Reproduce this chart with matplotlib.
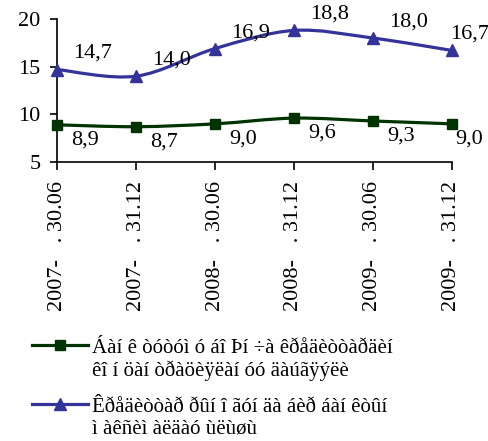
import matplotlib
matplotlib.use('Agg')
import matplotlib.pyplot as plt
import numpy as np
from matplotlib.path import Path
from matplotlib.patches import PathPatch
from matplotlib.lines import Line2D

# data
dates = ['2007-   . 30.06', '2007-   . 31.12', '2008-   . 30.06',
         '2008-   . 31.12', '2009-   . 30.06', '2009-   . 31.12']
conc = [8.9, 8.7, 9.0, 9.6, 9.3, 9.0]
maxshare = [14.7, 14.0, 16.9, 18.8, 18.0, 16.7]
label_conc = 'Áàí ê òóòóì ó áî Þí ÷à êðåäèòòàðäèí\nêî í öàí òðàöèÿëàí óó äàúãÿýëè'
label_max = 'Êðåäèòòàð ðûí î ãóí äà áèð áàí êòûí\nì àêñèì àëäàó ùëùøù'

green = '#003300'
blue = '#333399'

plt.rcParams['font.family'] = ['Liberation Serif', 'DejaVu Serif']


def smooth_path(x, y):
    # excel-like smoothed line as cubic bezier segments
    pts = np.column_stack([x, y]).astype(float)
    n = len(pts)
    verts = [pts[0]]
    codes = [Path.MOVETO]
    for i in range(n - 1):
        p0 = pts[i - 1] if i > 0 else pts[i]
        p1 = pts[i]
        p2 = pts[i + 1]
        p3 = pts[i + 2] if i + 2 < n else pts[i + 1]
        c1 = p1 + (p2 - p0) / 6.0
        c2 = p2 - (p3 - p1) / 6.0
        verts += [c1, c2, p2]
        codes += [Path.CURVE4] * 3
    return Path(verts, codes)


fig = plt.figure(figsize=(4.89, 4.41), dpi=100)
ax = fig.add_axes([0.1166, 0.6327, 0.8077, 0.3242])

x = np.arange(len(dates))
ax.add_patch(PathPatch(smooth_path(x, conc), fill=False, edgecolor=green, lw=2.3, zorder=2))
ax.add_patch(PathPatch(smooth_path(x, maxshare), fill=False, edgecolor=blue, lw=2.3, zorder=2))
ax.plot(x, conc, ls='none', marker='s', ms=7.5, color=green, zorder=3, clip_on=False)
ax.plot(x, maxshare, ls='none', marker='^', ms=9, color=blue, zorder=3, clip_on=False)

last = len(x) - 1
for xi, v in zip(x, maxshare):
    dx = 18 if xi == last else 36
    ax.annotate(f'{v:.1f}'.replace('.', ','), (xi, v), xytext=(dx, 16),
                textcoords='offset pixels', ha='center', va='center', fontsize=16)
for xi, v in zip(x, conc):
    dx = 17 if xi == last else 28
    ax.annotate(f'{v:.1f}'.replace('.', ','), (xi, v), xytext=(dx, -15),
                textcoords='offset pixels', ha='center', va='center', fontsize=16)

ax.set_xlim(0, 5)
ax.set_ylim(5, 20)
ax.set_yticks([5, 10, 15, 20])
ax.set_xticks(x)
ax.set_xticklabels(dates, rotation=90, fontsize=16)
ax.tick_params(axis='y', labelsize=16, length=5, width=1.2, direction='out', pad=7)
ax.tick_params(axis='x', length=6, width=1.2, direction='out', pad=8)
for s in ['top', 'right']:
    ax.spines[s].set_visible(False)
for s in ['left', 'bottom']:
    ax.spines[s].set_linewidth(1.2)

# legend drawn by hand so the key sits on the first text line
W, H = 489, 441
for yk, col, mk, ms, lab in [(345, green, 's', 7.5, label_conc),
                             (404, blue, '^', 9, label_max)]:
    fig.add_artist(Line2D([32 / W, 88 / W], [1 - yk / H] * 2, color=col, lw=2.3))
    fig.add_artist(Line2D([60 / W], [1 - yk / H], color=col, marker=mk, ms=ms))
    fig.text(92 / W, 1 - (yk - 6) / H, lab, fontsize=15, va='top', ha='left',
             linespacing=1.15)

fig.savefig('out.png', dpi=100)
